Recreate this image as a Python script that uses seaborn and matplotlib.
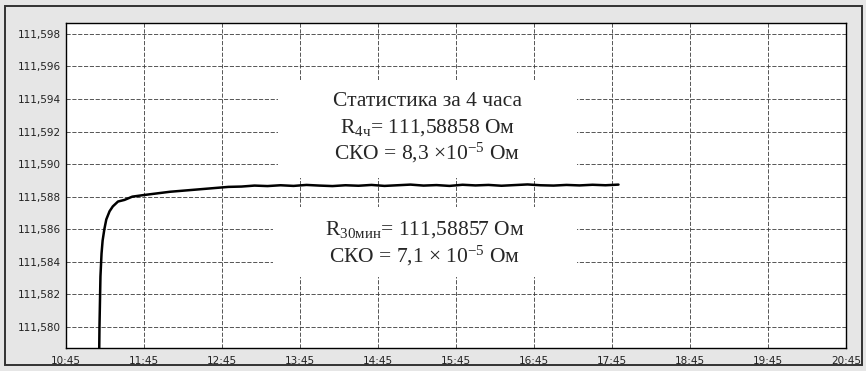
import numpy as np
import pandas as pd
import matplotlib
matplotlib.use('Agg')
import matplotlib.pyplot as plt
import matplotlib.dates as mdates
from matplotlib.patches import Rectangle
from matplotlib.ticker import FuncFormatter, MultipleLocator
import seaborn as sns

vremya = ["11:10:20", "11:10:45", "11:11:30", "11:12:20", "11:13:10", "11:14:30",
          "11:16:00", "11:18:30", "11:21:00", "11:25:00", "11:30:00", "11:36:00",
          "11:45:00", "11:55:00", "12:05:00", "12:20:00", "12:35:00", "12:50:00",
          "13:00:00", "13:10:00", "13:20:00", "13:30:00", "13:40:00", "13:50:00",
          "14:00:00", "14:10:00", "14:20:00", "14:30:00", "14:40:00", "14:50:00",
          "15:00:00", "15:10:00", "15:20:00", "15:30:00", "15:40:00", "15:50:00",
          "16:00:00", "16:10:00", "16:20:00", "16:30:00", "16:40:00", "16:50:00",
          "17:00:00", "17:10:00", "17:20:00", "17:30:00", "17:40:00", "17:50:00"]
R = [111.5770, 111.5800, 111.5831, 111.5845, 111.5853, 111.5860,
     111.5866, 111.5871, 111.5874, 111.5877, 111.5878, 111.5880,
     111.5881, 111.5882, 111.5883, 111.5884, 111.5885, 111.58860,
     111.58862, 111.58868, 111.58865, 111.58870, 111.58866, 111.58872,
     111.58868, 111.58865, 111.58870, 111.58867, 111.58872, 111.58866,
     111.58870, 111.58874, 111.58868, 111.58871, 111.58866, 111.58873,
     111.58869, 111.58872, 111.58867, 111.58871, 111.58875, 111.58870,
     111.58868, 111.58872, 111.58869, 111.58873, 111.58870, 111.58874]

yticks = [111.580, 111.582, 111.584, 111.586, 111.588, 111.590, 111.592, 111.594, 111.596, 111.598]

df = pd.DataFrame({"t": pd.to_datetime("2000-01-01 " + pd.Series(vremya)), "R": R})

sns.set_style("white")
plt.rcParams['font.family'] = ['DejaVu Sans']
plt.rcParams['mathtext.fontset'] = 'custom'
plt.rcParams['mathtext.rm'] = 'Liberation Serif'
plt.rcParams['mathtext.it'] = 'Liberation Serif:italic'

fig = plt.figure(figsize=(8.66, 3.71), dpi=100, facecolor='#e6e6e6')
ax = fig.add_axes([66/866, 1-348/371, 780/866, 325/371])
ax.set_facecolor('white')

# рамка окна
fig.patches.append(Rectangle((5/866, 6/371), 857/866, 359/371, transform=fig.transFigure,
                             fill=False, edgecolor='#333333', lw=1.4))

sns.lineplot(data=df, x="t", y="R", color='black', lw=1.8, ax=ax, zorder=5)

ax.set_xlim(pd.Timestamp("2000-01-01 10:45"), pd.Timestamp("2000-01-01 20:45"))
ax.set_ylim(111.5787, 111.59867)
ax.xaxis.set_major_locator(mdates.MinuteLocator(byminute=[45]))
ax.xaxis.set_minor_locator(mdates.MinuteLocator(byminute=range(0, 60, 5)))
ax.xaxis.set_major_formatter(mdates.DateFormatter('%H:%M'))
ax.set_yticks(yticks)
ax.yaxis.set_major_formatter(FuncFormatter(lambda v, p: f"{v:.3f}".replace('.', ',')))
ax.set_xlabel("")
ax.set_ylabel("")

ax.grid(True, which='major', color='#3a3a3a', linestyle=(0, (5, 2)), lw=0.6)
ax.tick_params(axis='both', which='major', labelsize=7.5, colors='#222222', length=3, width=0.6)
ax.tick_params(axis='x', which='major', pad=3)
ax.tick_params(axis='y', which='major', pad=1)
ax.tick_params(axis='x', which='minor', direction='in', length=2, width=0.5, color='#333333')
for s in ax.spines.values():
    s.set_color('black')
    s.set_linewidth(1.0)

# белые подложки под надписи
ax.add_patch(Rectangle((0.272, 0.523), 0.383, 0.302, transform=ax.transAxes,
                       facecolor='white', edgecolor='none', zorder=3))
ax.add_patch(Rectangle((0.265, 0.218), 0.390, 0.216, transform=ax.transAxes,
                       facecolor='white', edgecolor='none', zorder=3))

fs = 15.5
tkw = dict(transform=ax.transAxes, ha='center', va='center', fontsize=fs,
           family='Liberation Serif', zorder=6)
ax.text(0.463, 0.757, "Статистика за 4 часа", **tkw)
ax.text(0.463, 0.677, r"R$_{\mathrm{4ч}}$= 111,58858 Ом", **tkw)
ax.text(0.463, 0.600, r"СКО = 8,3 ×10$^{\mathrm{-5}}$ Ом", **tkw)
ax.text(0.460, 0.365, r"R$_{\mathrm{30мин}}$= 111,58857 Ом", **tkw)
ax.text(0.460, 0.284, r"СКО = 7,1 × 10$^{\mathrm{-5}}$ Ом", **tkw)

fig.savefig("out.png", dpi=100, facecolor=fig.get_facecolor())
